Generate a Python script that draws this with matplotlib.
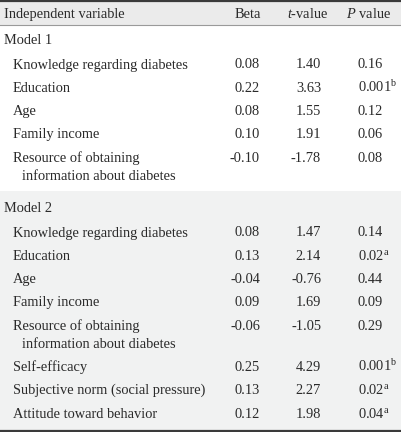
import matplotlib.pyplot as plt
from matplotlib.patches import Rectangle

plt.rcParams['font.family'] = 'Liberation Serif'
plt.rcParams['mathtext.fontset'] = 'custom'
plt.rcParams['mathtext.rm'] = 'Liberation Serif'
plt.rcParams['mathtext.it'] = 'Liberation Serif:italic'

# table content
headers = ['Independent variable', 'Beta', '$t$-value', '$P$ value']
models = ['Model 1', 'Model 2']
m1_vars = ['Knowledge regarding diabetes', 'Education', 'Age', 'Family income',
           'Resource of obtaining\ninformation about diabetes']
m1_beta = ['0.08', '0.22', '0.08', '0.10', '-0.10']
m1_t = ['1.40', '3.63', '1.55', '1.91', '-1.78']
m1_p = ['0.16', '0.001', '0.12', '0.06', '0.08']
m1_sup = ['', 'b', '', '', '']

m2_vars = ['Knowledge regarding diabetes', 'Education', 'Age', 'Family income',
           'Resource of obtaining\ninformation about diabetes',
           'Self-efficacy', 'Subjective norm (social pressure)', 'Attitude toward behavior']
m2_beta = ['0.08', '0.13', '-0.04', '0.09', '-0.06', '0.25', '0.13', '0.12']
m2_t = ['1.47', '2.14', '-0.76', '1.69', '-1.05', '4.29', '2.27', '1.98']
m2_p = ['0.14', '0.02', '0.44', '0.09', '0.29', '0.001', '0.02', '0.04']
m2_sup = ['', 'a', '', '', '', 'b', 'a', 'a']

W, H = 401, 432
fig = plt.figure(figsize=(W / 100, H / 100), dpi=100)
ax = fig.add_axes([0, 0, 1, 1])
ax.set_xlim(0, W)
ax.set_ylim(H, 0)
ax.axis('off')

txt = '#2a2a2a'
fs = 10.4

# backgrounds and rules
ax.add_patch(Rectangle((0, 0), W, 24.5, color='#ebebeb', lw=0))
ax.add_patch(Rectangle((0, 191), W, 240, color='#f1f2f2', lw=0))
ax.axhline(1, color='#3a3a3a', lw=1.6)
ax.axhline(24.5, color='#9a9a9a', lw=0.8)
ax.axhline(430.5, color='#3a3a3a', lw=1.6)

xb, xt, xp = 260, 321, 358

# header
hy = 18
ax.text(4, hy, headers[0], fontsize=fs, color=txt, va='baseline')
ax.text(248, hy, headers[1], fontsize=fs, color=txt, va='baseline', ha='center')
ax.text(308, hy, headers[2], fontsize=fs, color=txt, va='baseline', ha='center')
ax.text(369, hy, headers[3], fontsize=fs, color=txt, va='baseline', ha='center')


def block(y, name, names, beta, tv, pv, sup):
    ax.text(4, y, name, fontsize=fs, color=txt, va='baseline')
    y += 24
    for n, b, t, p, s in zip(names, beta, tv, pv, sup):
        lines = n.split('\n')
        ax.text(13, y, lines[0], fontsize=fs, color=txt, va='baseline')
        for k, extra in enumerate(lines[1:], 1):
            ax.text(22, y + 18 * k, extra, fontsize=fs, color=txt, va='baseline')
        ax.text(xb, y, b, fontsize=fs, color=txt, va='baseline', ha='right')
        ax.text(xt, y, t, fontsize=fs, color=txt, va='baseline', ha='right')
        lab = p + ('$^{\\mathrm{%s}}$' % s if s else '')
        ax.text(xp, y, lab, fontsize=fs, color=txt, va='baseline', ha='left')
        y += 23.3 + 18 * (len(lines) - 1)
    return y


block(44.5, models[0], m1_vars, m1_beta, m1_t, m1_p, m1_sup)
block(212.5, models[1], m2_vars, m2_beta, m2_t, m2_p, m2_sup)

fig.savefig('out.png', dpi=100)
